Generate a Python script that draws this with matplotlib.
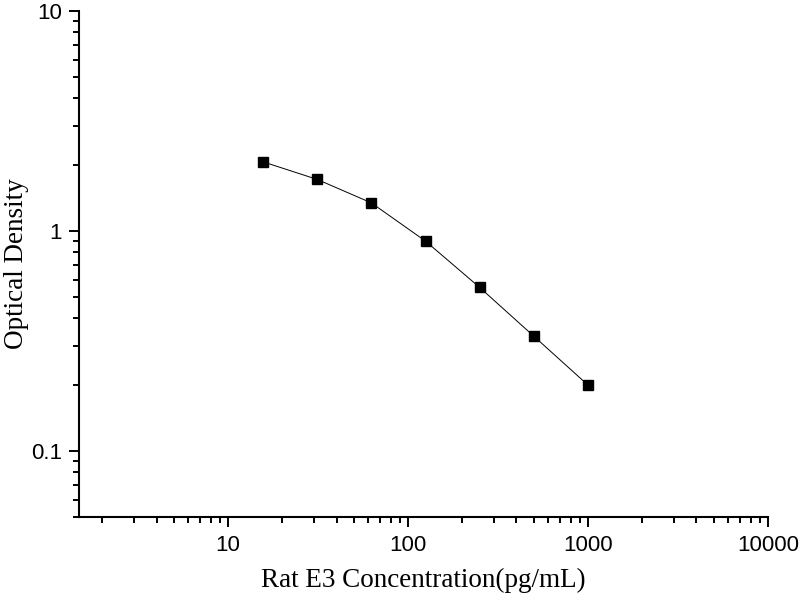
import matplotlib
matplotlib.use("Agg")
import matplotlib.pyplot as plt
from matplotlib.ticker import LogLocator, NullFormatter, FixedLocator, FixedFormatter

# Standard curve data
concentration = [15.6, 31.25, 62.5, 125, 250, 500, 1000]
optical_density = [2.06, 1.713, 1.34, 0.898, 0.553, 0.332, 0.199]

x_ticks = [10, 100, 1000, 10000]
x_tick_labels = ["10", "100", "1000", "10000"]
y_ticks = [0.1, 1, 10]
y_tick_labels = ["0.1", "1", "10"]

fig = plt.figure(figsize=(8, 6), dpi=100)
ax = fig.add_axes([0.099, 0.138, 0.861, 0.844])

ax.plot(concentration, optical_density, color="black", linewidth=0.7,
        marker="s", markersize=7.5, markerfacecolor="black", markeredgecolor="black")

ax.set_xscale("log")
ax.set_yscale("log")
ax.set_xlim(1.486, 10000)
ax.set_ylim(0.05, 10)

# Ticks
ax.xaxis.set_major_locator(FixedLocator(x_ticks))
ax.xaxis.set_major_formatter(FixedFormatter(x_tick_labels))
ax.yaxis.set_major_locator(FixedLocator(y_ticks))
ax.yaxis.set_major_formatter(FixedFormatter(y_tick_labels))
ax.xaxis.set_minor_locator(LogLocator(base=10, subs=range(2, 10), numticks=20))
ax.yaxis.set_minor_locator(LogLocator(base=10, subs=range(2, 10), numticks=20))
ax.xaxis.set_minor_formatter(NullFormatter())
ax.yaxis.set_minor_formatter(NullFormatter())

ax.tick_params(which="major", direction="out", length=7.5, width=1.4,
               labelsize=16, pad=5)
ax.tick_params(which="minor", direction="out", length=4.3, width=1.4)
for lbl in ax.get_xticklabels() + ax.get_yticklabels():
    lbl.set_family("Liberation Sans")

for side in ("top", "right"):
    ax.spines[side].set_visible(False)
for side in ("left", "bottom"):
    ax.spines[side].set_linewidth(1.5)

ax.set_xlabel("Rat E3 Concentration(pg/mL)", family="Liberation Serif",
              fontsize=19.5, labelpad=9)
ax.set_ylabel("Optical Density", family="Liberation Serif", fontsize=19.5)
ax.yaxis.set_label_coords(-0.073, 0.5)

fig.savefig("out.png", dpi=100)
